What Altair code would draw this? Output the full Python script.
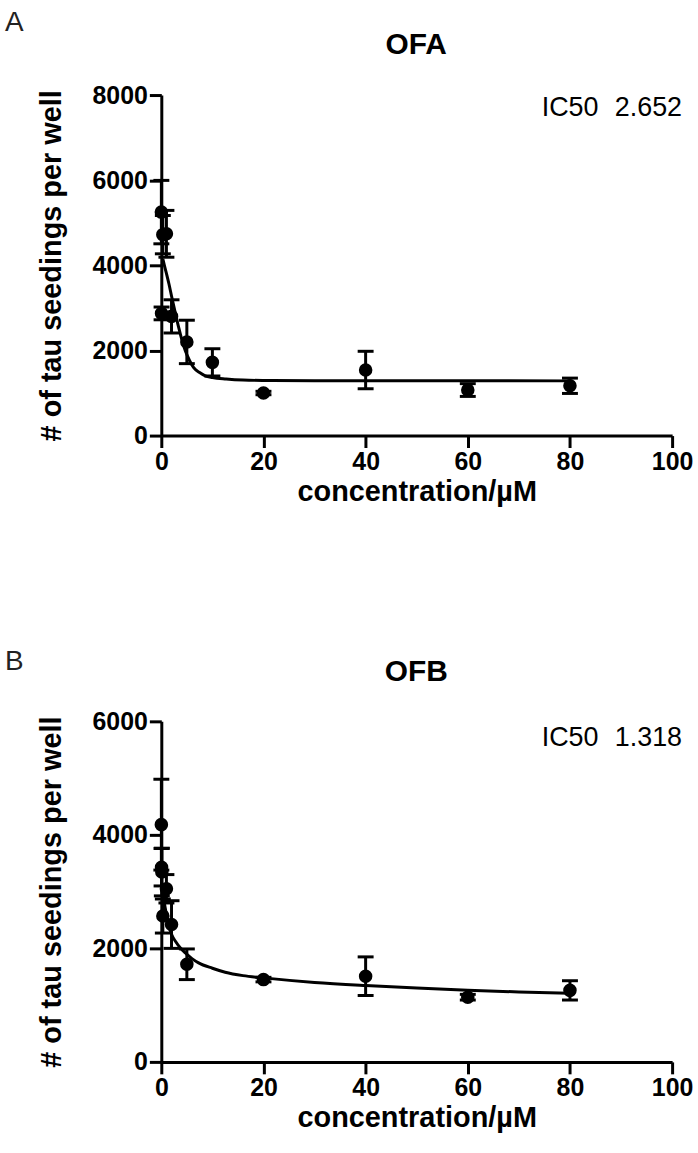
import altair as alt
import pandas as pd

FONT = "Liberation Sans"

# ---------------- Panel A (OFA) ----------------
conc_a = [0.01, 0.3, 1, 0.05, 2, 5, 10, 20, 40, 60, 80]
mean_a = [5250, 4720, 4740, 2870, 2800, 2200, 1720, 1000, 1540, 1070, 1170]
sd_a = [745, 450, 550, 150, 390, 510, 320, 40, 440, 150, 180]

curve_a_x = [0.3, 0.6, 1, 1.5, 2, 2.65, 3.4, 4, 4.7, 5.5, 6.3, 7.5, 8.6, 10,
             12.7, 16, 21.7, 30, 40, 60, 80]
curve_a_y = [4150, 4000, 3810, 3560, 3280, 2930, 2540, 2260, 1990, 1770, 1600,
             1480, 1405, 1365, 1330, 1305, 1292, 1288, 1287, 1286, 1285]

# ---------------- Panel B (OFB) ----------------
conc_b = [0.01, 0.05, 0.1, 1, 0.3, 2, 5, 20, 40, 60, 80]
mean_b = [4180, 3430, 3345, 3050, 2570, 2420, 1720, 1450, 1510, 1140, 1260]
sd_b = [800, 330, 420, 250, 300, 420, 270, 40, 340, 50, 170]

curve_b_x = [0.3, 0.6, 1, 1.5, 2, 2.8, 3.7, 4.7, 6, 7.3, 10, 12.5, 16, 20, 30,
             40, 50, 60, 70, 80]
curve_b_y = [3000, 2800, 2600, 2390, 2250, 2120, 2010, 1920, 1820, 1745, 1650,
             1580, 1520, 1480, 1400, 1345, 1300, 1262, 1232, 1210]

x_ticks = [0, 20, 40, 60, 80, 100]
y_ticks_a = [0, 2000, 4000, 6000, 8000]
y_ticks_b = [0, 2000, 4000, 6000]

letters = ["A", "B"]
titles = ["OFA", "OFB"]
ic50_label = "IC50"
ic50_values = ["2.652", "1.318"]
x_title = "concentration/µM"
y_title = "# of tau seedings per well"

W = 513
H = 342


def panel(conc, mean, sd, cx, cy, yticks, letter, name, ic50, pos):
    ymax = yticks[-1]
    pts = pd.DataFrame({
        "conc": conc,
        "mean": mean,
        "lo": [m - s for m, s in zip(mean, sd)],
        "hi": [m + s for m, s in zip(mean, sd)],
    })
    cur = pd.DataFrame({"conc": cx, "mean": cy})

    xs = alt.Scale(domain=[0, 100], nice=False, zero=False)
    ys = alt.Scale(domain=[0, ymax], nice=False)

    x_axis = alt.Axis(values=x_ticks, title=x_title, labelFlush=False,
                      format="d", titlePadding=3)
    y_axis = alt.Axis(values=yticks, title=y_title, format="d",
                      titlePadding=26)

    def X(f):
        return alt.X(f, scale=xs, axis=x_axis, title=x_title)

    def Y(f):
        return alt.Y(f, scale=ys, axis=y_axis, title=y_title)

    base = alt.Chart(pts)
    points = base.mark_circle(size=185, opacity=1, color="black").encode(
        x=X("conc:Q"), y=Y("mean:Q"),
    )
    rules = base.mark_rule(strokeWidth=3, color="black").encode(
        x=X("conc:Q"), y=Y("lo:Q"), y2="hi:Q",
    )
    cap_lo = base.mark_tick(orient="horizontal", size=16, thickness=3,
                            color="black", opacity=1).encode(
        x=X("conc:Q"), y=Y("lo:Q"),
    )
    cap_hi = base.mark_tick(orient="horizontal", size=16, thickness=3,
                            color="black", opacity=1).encode(
        x=X("conc:Q"), y=Y("hi:Q"),
    )
    line = alt.Chart(cur).mark_line(strokeWidth=3, color="black",
                                    interpolate="monotone").encode(
        x=X("conc:Q"), y=Y("mean:Q"),
    )

    tdf = pd.DataFrame({"letter": [letter], "name": [name],
                        "ic": [ic50_label], "val": [ic50]})
    tb = alt.Chart(tdf)
    t_letter = tb.mark_text(font=FONT, fontSize=28, align="left",
                            baseline="alphabetic", color="#222").encode(
        x=alt.value(pos["lx"]), y=alt.value(pos["ly"]), text="letter:N")
    t_name = tb.mark_text(font=FONT, fontSize=30, fontWeight="bold",
                          align="center", baseline="alphabetic",
                          color="black").encode(
        x=alt.value(pos["nx"]), y=alt.value(pos["ny"]), text="name:N")
    t_ic = tb.mark_text(font=FONT, fontSize=27, align="left",
                        baseline="alphabetic", color="black").encode(
        x=alt.value(pos["icx"]), y=alt.value(pos["icy"]), text="ic:N")
    t_val = tb.mark_text(font=FONT, fontSize=27, align="right",
                         baseline="alphabetic", color="black").encode(
        x=alt.value(pos["vx"]), y=alt.value(pos["icy"]), text="val:N")

    return alt.layer(points, rules, cap_lo, cap_hi, line,
                     t_letter, t_name, t_ic, t_val).properties(width=W, height=H)


pa = panel(conc_a, mean_a, sd_a, curve_a_x, curve_a_y, y_ticks_a,
           letters[0], titles[0], ic50_values[0],
           dict(lx=-157, ly=-64, nx=256, ny=-41, icx=382, icy=21, vx=523))
pb = panel(conc_b, mean_b, sd_b, curve_b_x, curve_b_y, y_ticks_b,
           letters[1], titles[1], ic50_values[1],
           dict(lx=-157, ly=-52, nx=256, ny=-41, icx=382, icy=25, vx=523))

chart = alt.vconcat(pa, pb, spacing=142).properties(
    padding={"left": 5, "top": 7, "right": 5, "bottom": 5}
).configure_view(stroke=None).configure_axis(
    domainWidth=3, domainColor="black", tickWidth=3, tickColor="black",
    tickSize=12, labelFont=FONT, labelFontWeight="bold", labelFontSize=25,
    labelColor="black", labelPadding=2, titleFont=FONT, titleFontSize=29,
    titleFontWeight="bold", titleColor="black", grid=False,
)

chart.save("out.html", embed_options={"renderer": "svg", "actions": False})
